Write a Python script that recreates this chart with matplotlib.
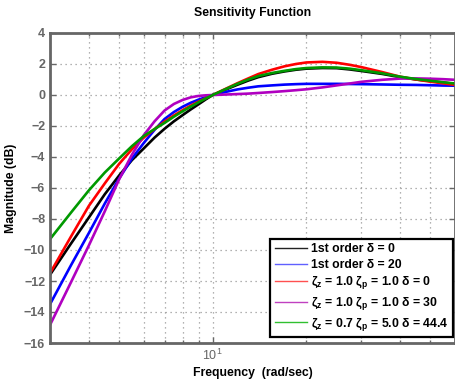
import matplotlib
matplotlib.use("Agg")
import matplotlib.pyplot as plt
from matplotlib.ticker import FixedLocator, NullFormatter, LogFormatterSciNotation
from matplotlib.lines import Line2D

plt.rcParams['font.family'] = ['Liberation Sans', 'DejaVu Sans']
plt.rcParams['mathtext.fontset'] = 'custom'
plt.rcParams['mathtext.rm'] = 'Liberation Sans'
plt.rcParams['mathtext.bf'] = 'Liberation Sans:bold'
plt.rcParams['mathtext.it'] = 'Liberation Sans:italic'

freq = [3, 3.5, 4, 4.5, 5, 5.5, 6, 6.5, 7, 7.5, 8, 8.5, 9, 9.5, 10,
        11, 12, 13, 14, 15.5, 17, 18.5, 20, 22.5, 25, 27.5, 30, 35, 40, 45, 50, 55, 60]

first_d0 = [-11.6, -9.6, -7.9, -6.4, -5.2, -4.2, -3.45, -2.75, -2.18, -1.7, -1.3, -0.93, -0.6, -0.28, 0.0,
            0.35, 0.66, 0.93, 1.15, 1.37, 1.52, 1.63, 1.7, 1.74, 1.73, 1.65, 1.55, 1.36, 1.15, 1.0, 0.9, 0.8, 0.72]
first_d20 = [-13.5, -11.0, -8.9, -7.0, -5.4, -4.1, -3.1, -2.25, -1.55, -1.1, -0.76, -0.5, -0.3, -0.14, 0.0,
             0.2, 0.36, 0.47, 0.56, 0.62, 0.67, 0.7, 0.72, 0.72, 0.72, 0.71, 0.7, 0.68, 0.66, 0.65, 0.63, 0.61, 0.6]
z11_d0 = [-11.5, -9.15, -7.15, -5.7, -4.45, -3.5, -2.75, -2.2, -1.72, -1.32, -0.98, -0.68, -0.43, -0.2, 0.0,
          0.4, 0.76, 1.07, 1.35, 1.63, 1.85, 2.0, 2.1, 2.14, 2.08, 1.95, 1.8, 1.48, 1.18, 1.0, 0.86, 0.75, 0.65]
z11_d30 = [-14.84, -12.1, -9.7, -7.5, -5.45, -3.85, -2.6, -1.7, -1.0, -0.58, -0.32, -0.15, -0.06, -0.02, 0.0,
           0.03, 0.06, 0.09, 0.13, 0.19, 0.25, 0.31, 0.37, 0.49, 0.62, 0.74, 0.85, 0.98, 1.06, 1.07, 1.05, 1.02, 0.98]
z07_d44 = [-9.3, -7.6, -6.15, -5.0, -4.1, -3.3, -2.65, -2.2, -1.8, -1.4, -1.05, -0.75, -0.47, -0.22, 0.0,
           0.38, 0.72, 1.0, 1.22, 1.42, 1.56, 1.67, 1.74, 1.78, 1.77, 1.7, 1.6, 1.4, 1.18, 1.03, 0.92, 0.82, 0.74]

series = [first_d0, first_d20, z11_d0, z11_d30, z07_d44]
labels = [u'1st order δ = 0',
          u'1st order δ = 20',
          u'ζ$_\\mathbf{z}$ = 1.0 ζ$_\\mathbf{p}$ = 1.0 δ = 0',
          u'ζ$_\\mathbf{z}$ = 1.0 ζ$_\\mathbf{p}$ = 1.0 δ = 30',
          u'ζ$_\\mathbf{z}$ = 0.7 ζ$_\\mathbf{p}$ = 5.0 δ = 44.4']
colors = ['#000000', '#0000ff', '#ff0000', '#b000c0', '#009900']
legend_colors = ['#222222', '#6060ff', '#ff5050', '#c040c0', '#30c030']

yticks = [4, 2, 0, -2, -4, -6, -8, -10, -12, -14, -16]

fig = plt.figure(figsize=(4.55, 3.85), dpi=100)
ax = fig.add_axes([50/455, 1 - 343/385, 405/455, 310/385])

for vals, c in zip(series, colors):
    ax.plot(freq, vals, color=c, lw=1.9, solid_capstyle='round', solid_joinstyle='round')

ax.set_xscale('log')
ax.set_xlim(3, 60)
ax.set_ylim(-16, 4)
ax.set_yticks(yticks)
ax.xaxis.set_major_locator(FixedLocator([10]))
ax.xaxis.set_major_formatter(LogFormatterSciNotation())
ax.xaxis.set_minor_locator(FixedLocator([3, 4, 5, 6, 7, 8, 9, 20, 30, 40, 50, 60]))
ax.xaxis.set_minor_formatter(NullFormatter())

gc = '#999999'
ax.grid(True, which='major', axis='both', linestyle=(0, (1, 3)), color=gc, lw=0.9)
ax.grid(True, which='minor', axis='x', linestyle=(0, (1, 3)), color=gc, lw=0.9)
ax.set_axisbelow(True)

spc = '#666666'
for s in ax.spines.values():
    s.set_color(spc)
    s.set_linewidth(2.0)
ax.tick_params(which='both', direction='in', colors=spc, top=True, right=True)
ax.tick_params(which='major', length=4, width=1)
ax.tick_params(which='minor', length=2, width=1)
for lab in ax.get_yticklabels():
    lab.set_fontweight('bold')
    lab.set_fontsize(9)
    lab.set_color(spc)
for lab in ax.get_xticklabels():
    lab.set_fontsize(9)
    lab.set_color(spc)

ax.set_title('Sensitivity Function', fontsize=8.8, fontweight='bold', pad=12)
ax.set_xlabel('Frequency  (rad/sec)', fontsize=8.8, fontweight='bold', labelpad=3)
ax.set_ylabel('Magnitude (dB)', fontsize=8.8, fontweight='bold', labelpad=5)

handles = [Line2D([], [], color=c, lw=1.0) for c in legend_colors]
leg = ax.legend(handles, labels, loc='lower right', bbox_to_anchor=(0.996, 0.019),
                prop={'weight': 'bold', 'size': 8.8}, frameon=True, fancybox=False,
                handlelength=2.6, handletextpad=0.4, labelspacing=0.3,
                borderpad=0.35, borderaxespad=0.0)
leg.get_frame().set_edgecolor('black')
leg.get_frame().set_linewidth(1.6)
leg.get_frame().set_alpha(1)

fig.savefig('out.png', dpi=100)
